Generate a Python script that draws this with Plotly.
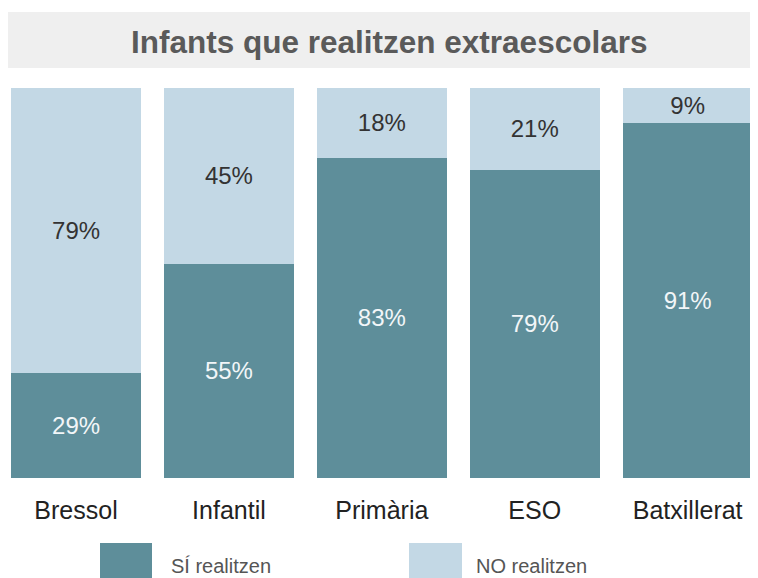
import plotly.graph_objects as go

categories = ["Bressol", "Infantil", "Primària", "ESO", "Batxillerat"]
si_realitzen = [29, 55, 83, 79, 91]
no_realitzen = [79, 45, 18, 21, 9]
series_names = ["SÍ realitzen", "NO realitzen"]
title_text = "Infants que realitzen extraescolars"

dark = "#5e8e9a"
light = "#c3d8e5"
font_family = "Liberation Sans, Arial, sans-serif"

# the page body adds an 8px offset; figure is 750x570 so it fills 758x578
W, H = 750, 570
OFF = 8
H_PLOT = 390.0  # plot area spans reference pixels 88..478


def px(ref_x):
    return (ref_x - OFF) / W


def py(ref_y):
    return (478 - ref_y) / H_PLOT


fig = go.Figure()
fig.add_trace(go.Bar(
    x=categories, y=si_realitzen, name=series_names[0],
    marker=dict(color=dark, line=dict(width=0)),
    text=[f"{v}%" for v in si_realitzen], textposition="inside",
    insidetextanchor="middle", constraintext="none",
    textfont=dict(color="#f2f6f8", size=24, family=font_family),
))
fig.add_trace(go.Bar(
    x=categories, y=no_realitzen, name=series_names[1],
    marker=dict(color=light, line=dict(width=0)),
    text=[f"{v}%" for v in no_realitzen], textposition="inside",
    insidetextanchor="middle", constraintext="none",
    textfont=dict(color="#333333", size=24, family=font_family),
))

shapes = [
    # title band
    dict(type="rect", xref="paper", yref="paper", x0=0, x1=1,
         y0=py(68), y1=py(12), fillcolor="#efefef", line=dict(width=0), layer="below"),
    # custom legend squares
    dict(type="rect", xref="paper", yref="paper", x0=px(100), x1=px(152),
         y0=py(578), y1=py(543), fillcolor=dark, line=dict(width=0)),
    dict(type="rect", xref="paper", yref="paper", x0=px(409), x1=px(462),
         y0=py(578), y1=py(543), fillcolor=light, line=dict(width=0)),
]
annotations = [
    dict(text="<b>" + title_text + "</b>", xref="paper", yref="paper", x=px(389), y=py(42),
         showarrow=False, xanchor="center", yanchor="middle",
         font=dict(size=31.5, color="#5a5a5a", family=font_family)),
    dict(text=series_names[0], xref="paper", yref="paper", x=px(169), y=py(566),
         showarrow=False, xanchor="left", yanchor="middle",
         font=dict(size=20, color="#555555", family=font_family)),
    dict(text=series_names[1], xref="paper", yref="paper", x=px(474), y=py(566),
         showarrow=False, xanchor="left", yanchor="middle",
         font=dict(size=20, color="#555555", family=font_family)),
]

fig.update_layout(
    width=W, height=H,
    barmode="stack", barnorm="percent", bargap=0.15,
    showlegend=False,
    margin=dict(l=0, r=0, t=80, b=100, pad=0),
    paper_bgcolor="white", plot_bgcolor="white",
    shapes=shapes, annotations=annotations,
    xaxis=dict(range=[-0.445, 4.46], showgrid=False, zeroline=False, showline=False,
               ticks="outside", ticklen=10, tickcolor="rgba(0,0,0,0)",
               tickfont=dict(size=25, color="#222222", family=font_family)),
    yaxis=dict(range=[0, 100], visible=False, showgrid=False),
    font=dict(family=font_family),
)

fig.write_html("out.html")
